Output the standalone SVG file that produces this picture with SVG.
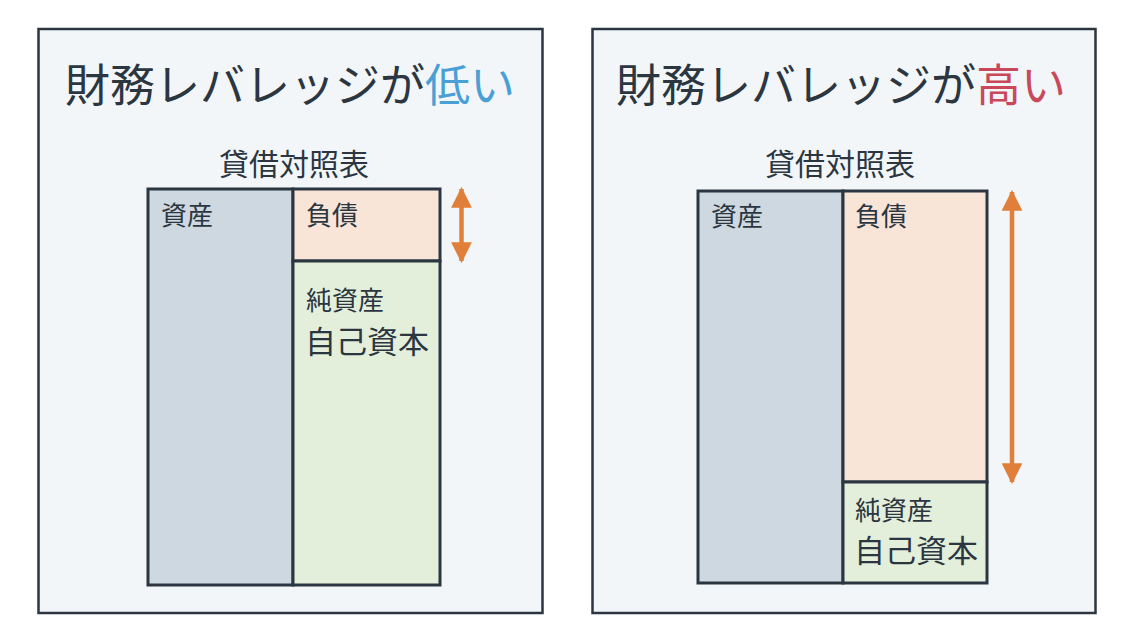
<svg xmlns="http://www.w3.org/2000/svg" width="1134" height="640" viewBox="0 0 1134 640">
<style>
.panel{fill:#f2f6f9;stroke:#2b3640;stroke-width:2.5}
.box{stroke:#2b3640;stroke-width:3}
.asset{fill:#cdd8e1}
.liab{fill:#f8e5d8}
.eq{fill:#e4efdb}
text{font-family:"Noto Sans CJK JP","Noto Sans",sans-serif;fill:#2b3640}
.title{font-size:45px}
.sub{font-size:30px}
.lbl{font-size:26px}
.lbl2{font-size:31px}
.arr{stroke:#e07f3a;stroke-width:4.5;fill:none}
</style>
<defs>
<marker id="ah" viewBox="0 0 10 10" refX="9" refY="5" markerWidth="4.6" markerHeight="4.6" orient="auto-start-reverse" markerUnits="strokeWidth">
<path d="M0,0 L10,5 L0,10 Z" fill="#e07f3a"/>
</marker>
</defs>
<rect width="1134" height="640" fill="#ffffff"/>
<g id="panel-low">
<rect class="panel" x="38.5" y="29" width="504" height="584"/>
<text class="title" x="290" y="102" text-anchor="middle">財務レバレッジが<tspan fill="#4a9fd5">低い</tspan></text>
<text class="sub" x="294" y="175" text-anchor="middle">貸借対照表</text>
</g>
<g id="low-asset">
<rect class="box asset" x="148" y="189" width="145" height="396"/>
<text class="lbl" x="161" y="225">資産</text>
</g>
<g id="low-liab">
<rect class="box liab" x="293" y="189" width="147" height="72"/>
<text class="lbl" x="306" y="225">負債</text>
</g>
<g id="low-eq">
<rect class="box eq" x="293" y="261" width="147" height="324"/>
<text class="lbl" x="306" y="310">純資産</text>
<text class="lbl2" x="305" y="353">自己資本</text>
</g>
<g id="panel-high">
<rect class="panel" x="592.5" y="29" width="503" height="584"/>
<text class="title" x="841" y="102" text-anchor="middle">財務レバレッジが<tspan fill="#c9485a">高い</tspan></text>
<text class="sub" x="840" y="175" text-anchor="middle">貸借対照表</text>
</g>
<g id="high-asset">
<rect class="box asset" x="698" y="191" width="145" height="392"/>
<text class="lbl" x="711" y="226">資産</text>
</g>
<g id="high-liab">
<rect class="box liab" x="843" y="191" width="144" height="291"/>
<text class="lbl" x="855" y="226">負債</text>
</g>
<g id="high-eq">
<rect class="box eq" x="843" y="482" width="144" height="101"/>
<text class="lbl" x="855" y="520">純資産</text>
<text class="lbl2" x="854" y="562">自己資本</text>
</g>
<g id="connectors">
<line class="arr" x1="461.5" y1="189" x2="461.5" y2="261" marker-start="url(#ah)" marker-end="url(#ah)"/>
<line class="arr" x1="1012" y1="192" x2="1012" y2="482" marker-start="url(#ah)" marker-end="url(#ah)"/>
</g>
</svg>
